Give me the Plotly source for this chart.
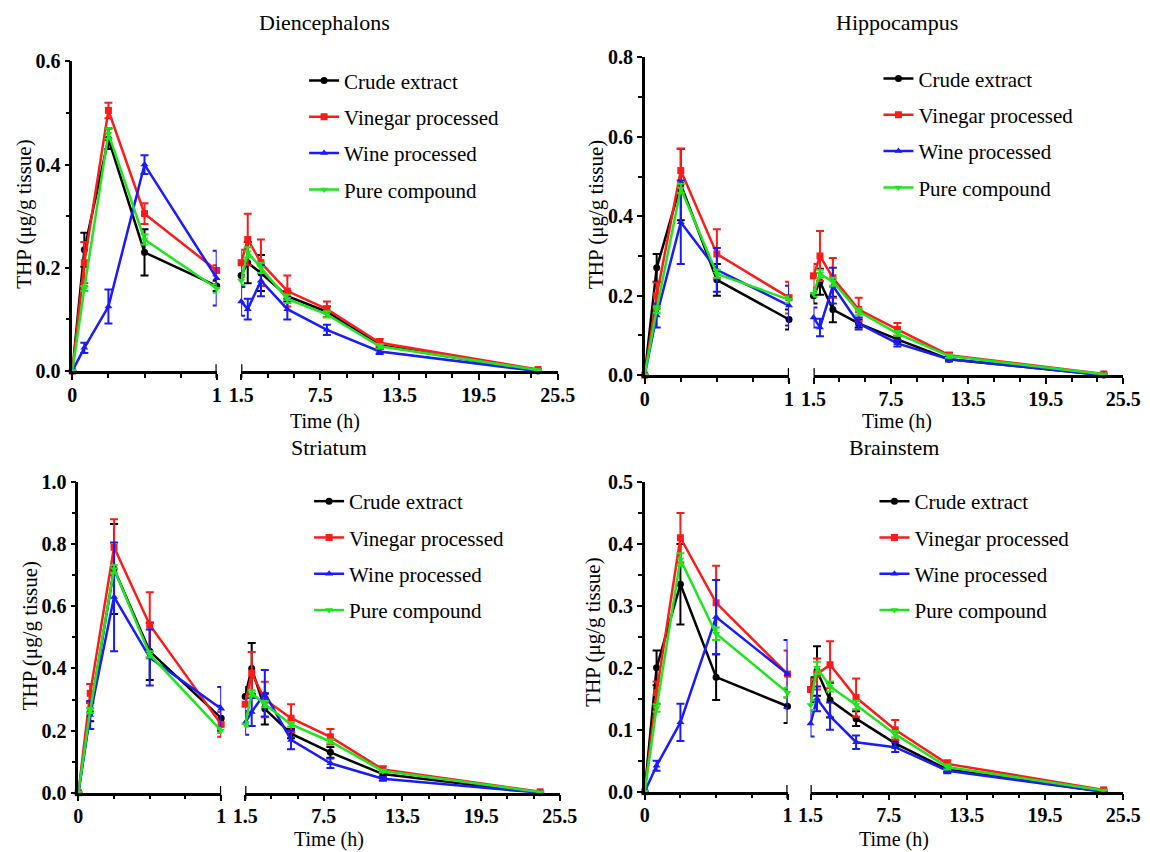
import plotly.graph_objects as go

W, H = 1150, 852

# --- Sampling times (h): early segment 0-1 h, late segment 1.5-24 h
times_early = [0, 0.083, 0.25, 0.5, 1]
times_late = [1.5, 2, 3, 5, 8, 12, 24]

# --- Diencephalons (mean, SD)
dien_crude = [0, 0.235, 0.45, 0.23, 0.165, 0.185, 0.21, 0.19, 0.145, 0.115, 0.05, 0.0]
dien_crude_sd = [0, 0.033, 0.02, 0.045, 0.01, 0.02, 0.04, 0.035, 0.01, 0.01, 0.005, 0]
dien_vinegar = [0, 0.21, 0.505, 0.305, 0.195, 0.21, 0.255, 0.21, 0.155, 0.12, 0.055, 0.003]
dien_vinegar_sd = [0, 0.04, 0.015, 0.02, 0.01, 0.025, 0.05, 0.045, 0.03, 0.015, 0.007, 0.001]
dien_wine = [0, 0.045, 0.125, 0.40, 0.18, 0.135, 0.12, 0.175, 0.12, 0.08, 0.038, 0.0]
dien_wine_sd = [0, 0.01, 0.033, 0.018, 0.053, 0.028, 0.02, 0.03, 0.02, 0.01, 0.005, 0]
dien_pure = [0, 0.16, 0.46, 0.255, 0.16, 0.175, 0.23, 0.2, 0.14, 0.11, 0.048, 0.002]
dien_pure_sd = [0, 0.005, 0.01, 0.01, 0.008, 0.008, 0.01, 0.01, 0.008, 0.006, 0.004, 0]

# --- Hippocampus
hipp_crude = [0, 0.27, 0.48, 0.24, 0.14, 0.20, 0.235, 0.165, 0.13, 0.09, 0.04, 0]
hipp_crude_sd = [0, 0.035, 0.09, 0.04, 0.025, 0.02, 0.033, 0.032, 0.01, 0.008, 0.005, 0]
hipp_vinegar = [0, 0.2, 0.515, 0.305, 0.195, 0.25, 0.3, 0.245, 0.165, 0.115, 0.05, 0.003]
hipp_vinegar_sd = [0, 0.033, 0.055, 0.062, 0.04, 0.03, 0.063, 0.05, 0.03, 0.016, 0.006, 0.001]
hipp_wine = [0, 0.15, 0.385, 0.265, 0.175, 0.145, 0.12, 0.225, 0.13, 0.08, 0.04, 0]
hipp_wine_sd = [0, 0.03, 0.105, 0.055, 0.05, 0.025, 0.022, 0.045, 0.015, 0.008, 0.005, 0]
hipp_pure = [0, 0.165, 0.47, 0.255, 0.19, 0.205, 0.255, 0.235, 0.16, 0.105, 0.048, 0.002]
hipp_pure_sd = [0, 0.008, 0.012, 0.01, 0.008, 0.008, 0.01, 0.01, 0.008, 0.006, 0.004, 0]

# --- Striatum
stri_crude = [0, 0.26, 0.72, 0.455, 0.24, 0.31, 0.40, 0.27, 0.19, 0.13, 0.06, 0]
stri_crude_sd = [0, 0.03, 0.145, 0.092, 0.04, 0.03, 0.082, 0.05, 0.015, 0.017, 0.008, 0]
stri_vinegar = [0, 0.32, 0.79, 0.54, 0.22, 0.285, 0.385, 0.30, 0.24, 0.18, 0.075, 0.003]
stri_vinegar_sd = [0, 0.03, 0.09, 0.105, 0.04, 0.025, 0.068, 0.057, 0.045, 0.025, 0.01, 0.001]
stri_wine = [0, 0.25, 0.63, 0.435, 0.27, 0.225, 0.26, 0.32, 0.17, 0.095, 0.045, 0]
stri_wine_sd = [0, 0.045, 0.175, 0.09, 0.07, 0.038, 0.045, 0.075, 0.03, 0.015, 0.006, 0]
stri_pure = [0, 0.265, 0.72, 0.445, 0.2, 0.22, 0.32, 0.285, 0.22, 0.165, 0.07, 0.002]
stri_pure_sd = [0, 0.008, 0.012, 0.01, 0.008, 0.008, 0.01, 0.01, 0.008, 0.006, 0.004, 0]

# --- Brainstem
brain_crude = [0, 0.2, 0.335, 0.185, 0.138, 0.165, 0.195, 0.148, 0.118, 0.078, 0.036, 0]
brain_crude_sd = [0, 0.028, 0.065, 0.037, 0.027, 0.02, 0.04, 0.028, 0.012, 0.006, 0.004, 0]
brain_vinegar = [0, 0.16, 0.41, 0.305, 0.19, 0.165, 0.19, 0.205, 0.152, 0.1, 0.045, 0.003]
brain_vinegar_sd = [0, 0.018, 0.04, 0.06, 0.038, 0.018, 0.025, 0.038, 0.031, 0.016, 0.006, 0.001]
brain_wine = [0, 0.042, 0.112, 0.282, 0.19, 0.11, 0.15, 0.122, 0.08, 0.072, 0.034, 0]
brain_wine_sd = [0, 0.008, 0.03, 0.06, 0.055, 0.021, 0.02, 0.022, 0.011, 0.008, 0.004, 0]
brain_pure = [0, 0.135, 0.375, 0.255, 0.16, 0.14, 0.2, 0.17, 0.14, 0.093, 0.04, 0.002]
brain_pure_sd = [0, 0.006, 0.01, 0.01, 0.008, 0.008, 0.01, 0.008, 0.007, 0.005, 0.004, 0]

series_names = ["Crude extract", "Vinegar processed", "Wine processed", "Pure compound"]
series_colors = ["#000000", "#ff1a1a", "#1a1aff", "#1ee61e"]
series_symbols = ["circle", "square", "triangle-up", "triangle-down"]

late_ticks = [1.5, 7.5, 13.5, 19.5, 25.5]

# --- Panel layout in pixels (left axis span, right axis span, y top/bottom, legend corner)
panels = [
    dict(title="Diencephalons", ymax=0.6, dtick=0.2,
         means=[dien_crude, dien_vinegar, dien_wine, dien_pure],
         sds=[dien_crude_sd, dien_vinegar_sd, dien_wine_sd, dien_pure_sd],
         left=(72, 216.5), right=(241, 558), ytop=62, ybot=372,
         title_xy=(324, 23), xlab_xy=(325, 422), ylab_xy=(24, 215), leg=(304, 61)),
    dict(title="Hippocampus", ymax=0.8, dtick=0.2,
         means=[hipp_crude, hipp_vinegar, hipp_wine, hipp_pure],
         sds=[hipp_crude_sd, hipp_vinegar_sd, hipp_wine_sd, hipp_pure_sd],
         left=(645, 789.5), right=(814, 1124), ytop=58, ybot=376,
         title_xy=(898, 23), xlab_xy=(898, 422), ylab_xy=(596, 215), leg=(879, 59)),
    dict(title="Striatum", ymax=1.0, dtick=0.2,
         means=[stri_crude, stri_vinegar, stri_wine, stri_pure],
         sds=[stri_crude_sd, stri_vinegar_sd, stri_wine_sd, stri_pure_sd],
         left=(78, 221), right=(245, 560), ytop=483, ybot=794,
         title_xy=(329, 448), xlab_xy=(329, 841), ylab_xy=(29, 637), leg=(309, 482)),
    dict(title="Brainstem", ymax=0.5, dtick=0.1,
         means=[brain_crude, brain_vinegar, brain_wine, brain_pure],
         sds=[brain_crude_sd, brain_vinegar_sd, brain_wine_sd, brain_pure_sd],
         left=(645, 788), right=(811, 1124), ytop=483, ybot=793,
         title_xy=(895, 448), xlab_xy=(895, 841), ylab_xy=(593, 633), leg=(875, 482)),
]

# the photographed page shows the figure slightly shrunk and shifted; map target pixels back
OFF, SC = 19.6, 0.975
FONT = "Liberation Serif"
tick_font = dict(family=FONT, size=20, color="black")


def px(v):
    return (v - OFF) / SC


def sid(n):
    return "" if n == 1 else str(n)


def bold(v):
    return f"<b>{v}</b>"


fig = go.Figure()
layout = {}
annotations = []
shapes = []

for i, p in enumerate(panels):
    nl, nr, ny = 2 * i + 1, 2 * i + 2, i + 1
    xl, xr, ya = "x" + sid(nl), "x" + sid(nr), "y" + sid(ny)
    leg = "legend" + sid(ny)

    for k in range(4):
        mean, sd = p["means"][k], p["sds"][k]
        style = dict(mode="lines+markers",
                     line=dict(color=series_colors[k], width=2.5),
                     marker=dict(symbol=series_symbols[k], size=7, color=series_colors[k]),
                     cliponaxis=False, legendgroup=f"{i}-{k}", legend=leg,
                     name=series_names[k])
        fig.add_trace(go.Scatter(
            x=times_early, y=mean[:5],
            error_y=dict(type="data", array=sd[:5], color=series_colors[k], thickness=2, width=4),
            xaxis=xl, yaxis=ya, showlegend=False, **style))
        fig.add_trace(go.Scatter(
            x=times_late, y=mean[5:],
            error_y=dict(type="data", array=sd[5:], color=series_colors[k], thickness=2, width=4),
            xaxis=xr, yaxis=ya, showlegend=True, **style))

    axis_common = dict(showline=True, linewidth=2.5, linecolor="black", ticks="outside",
                       ticklen=6, tickwidth=2, tickcolor="black", showgrid=False,
                       zeroline=False, tickfont=tick_font)
    layout["xaxis" + sid(nl)] = dict(
        domain=[px(p["left"][0]) / W, px(p["left"][1]) / W], anchor=ya, range=[0, 1],
        tickvals=[0, 1], ticktext=[bold(0), bold(1)], ticklabelstandoff=-2,
        minor=dict(tick0=0, dtick=0.25, ticks="outside", ticklen=4, tickwidth=2, tickcolor="black"),
        **axis_common)
    layout["xaxis" + sid(nr)] = dict(
        domain=[px(p["right"][0]) / W, px(p["right"][1]) / W], anchor=ya, range=[1.5, 25.5],
        tickvals=late_ticks, ticktext=[bold(t) for t in late_ticks], ticklabelstandoff=-2,
        minor=dict(tick0=1.5, dtick=2, ticks="outside", ticklen=4, tickwidth=2, tickcolor="black"),
        **axis_common)
    yc = dict(axis_common)
    yc["ticklen"] = 5
    yvals = [round(j * p["dtick"], 1) for j in range(int(round(p["ymax"] / p["dtick"])) + 1)]
    layout["yaxis" + sid(ny)] = dict(
        domain=[1 - px(p["ybot"]) / H, 1 - px(p["ytop"]) / H], anchor=xl, range=[0, p["ymax"]],
        tickvals=yvals, ticktext=[bold(f"{v:.1f}") for v in yvals],
        minor=dict(dtick=p["dtick"] / 2, ticks="outside", ticklen=4, tickwidth=2, tickcolor="black"),
        **yc)

    # end caps of the broken x axis
    for ax, xv in ((xl, 1), (xr, 1.5)):
        shapes.append(dict(type="line", xref=ax, yref=ya + " domain", x0=xv, x1=xv,
                           y0=-0.022, y1=0.022, line=dict(color="black", width=2.5)))

    layout[leg] = dict(x=px(p["leg"][0]) / W, y=1 - px(p["leg"][1]) / H, xanchor="left", yanchor="top",
                       font=dict(family=FONT, size=21, color="black"), bgcolor="rgba(0,0,0,0)",
                       tracegroupgap=6, itemwidth=30)

    annotations += [
        dict(text=p["title"], x=px(p["title_xy"][0]) / W, y=1 - px(p["title_xy"][1]) / H,
             font=dict(family=FONT, size=22, color="black")),
        dict(text="Time (h)", x=px(p["xlab_xy"][0]) / W, y=1 - px(p["xlab_xy"][1]) / H,
             font=dict(family=FONT, size=20, color="black")),
        dict(text="THP (μg/g tissue)", x=px(p["ylab_xy"][0]) / W, y=1 - px(p["ylab_xy"][1]) / H,
             textangle=-90, font=dict(family=FONT, size=21, color="black")),
    ]

for a in annotations:
    a.update(xref="paper", yref="paper", showarrow=False, xanchor="center", yanchor="middle")

fig.update_layout(width=W, height=H, margin=dict(l=0, r=0, t=0, b=0),
                  paper_bgcolor="white", plot_bgcolor="white",
                  annotations=annotations, shapes=shapes, **layout)

fig.write_html("out.html")
